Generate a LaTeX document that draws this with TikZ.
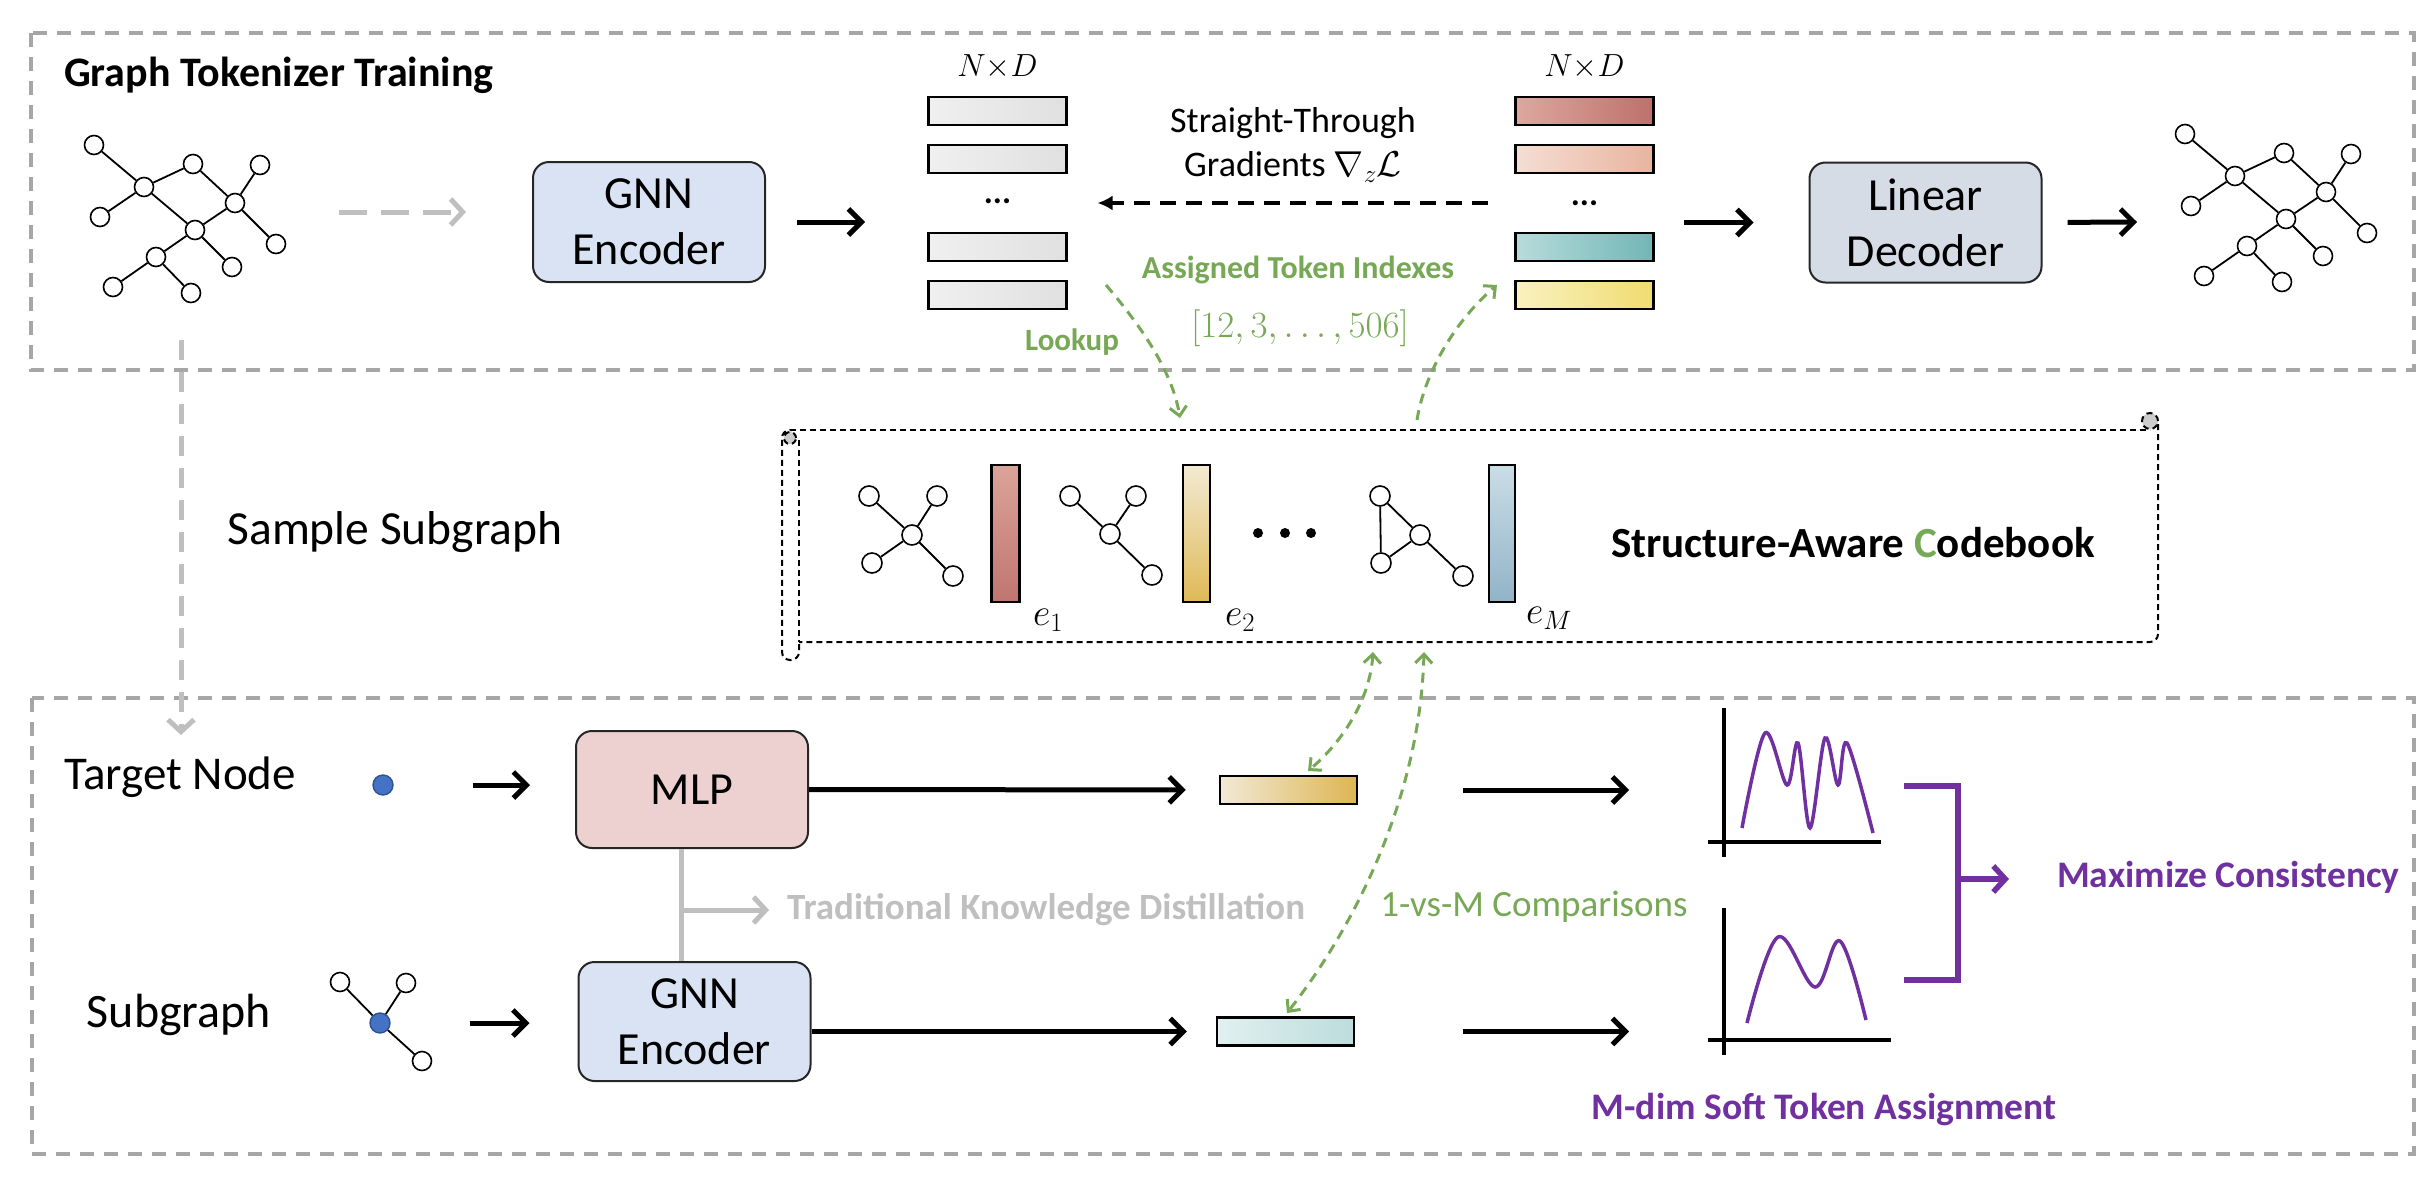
\RequirePackage{fix-cm}
\documentclass[tikz,border=0pt]{standalone}
\usepackage{fontspec}
\setmainfont{Carlito}
\usetikzlibrary{arrows.meta,calc}

\definecolor{gline}{HTML}{A6A6A6}
\definecolor{garrow}{HTML}{BFBFBF}
\definecolor{grn}{HTML}{77A856}
\definecolor{purp}{HTML}{7030A0}
\definecolor{gnnfill}{HTML}{DAE3F3}
\definecolor{decfill}{HTML}{D6DCE5}
\definecolor{mlpfill}{HTML}{EDD1D1}
\definecolor{dotblue}{HTML}{4472C4}
\definecolor{dotedge}{HTML}{2F528F}

\newcommand\fsz[1]{\fontsize{#1}{1.22\dimexpr#1pt\relax}\selectfont}

\newcommand\biggraph[3]{%
  \begin{scope}[shift={(#2,#3)}]
    \node[gnode] (#1a) at (94,145) {};
    \node[gnode] (#1b) at (144,187) {};
    \node[gnode] (#1c) at (100,217) {};
    \node[gnode] (#1d) at (193,164) {};
    \node[gnode] (#1e) at (260,165) {};
    \node[gnode] (#1f) at (235,203) {};
    \node[gnode] (#1g) at (195,230) {};
    \node[gnode] (#1h) at (276,244) {};
    \node[gnode] (#1i) at (156,257) {};
    \node[gnode] (#1j) at (232,267) {};
    \node[gnode] (#1k) at (113,287) {};
    \node[gnode] (#1l) at (191,293) {};
    \draw[gedge] (#1a)--(#1b) (#1b)--(#1c) (#1b)--(#1d) (#1d)--(#1f) (#1e)--(#1f)
      (#1f)--(#1h) (#1b)--(#1g) (#1g)--(#1f) (#1g)--(#1j) (#1g)--(#1i)
      (#1i)--(#1k) (#1i)--(#1l);
  \end{scope}}

\begin{document}
\begin{tikzpicture}[x=1pt,y=-1pt,
  gbox/.style={draw=gline,line width=3.5pt,dash pattern=on 14pt off 10pt},
  gnode/.style={circle,draw,line width=1.6pt,fill=white,minimum size=19pt,inner sep=0pt},
  cnode/.style={circle,draw,line width=1.6pt,fill=white,minimum size=20pt,inner sep=0pt},
  bnode/.style={circle,draw=dotedge,line width=1.4pt,fill=dotblue,minimum size=20pt,inner sep=0pt},
  gedge/.style={line width=1.8pt},
  blk/.style={line width=5pt,-{Straight Barb[length=13pt,width=26pt]}},
  grayarr/.style={draw=garrow,line width=5pt,-{Straight Barb[length=12pt,width=26pt]}},
  purarr/.style={draw=purp,line width=5.5pt,-{Straight Barb[length=12pt,width=26pt]}},
  grnarr/.style={draw=grn,line width=3pt,dash pattern=on 10pt off 7pt},
  procbox/.style={draw=black!85,line width=2pt,rounded corners=16pt,minimum width=232pt,
    minimum height=120pt,align=center,font=\fsz{46},inner sep=0pt},
  vec/.style={draw,line width=2.5pt,minimum width=138pt,minimum height=28pt,inner sep=0pt},
  cbar/.style={draw,line width=2.5pt,minimum width=28pt,minimum height=137pt,inner sep=0pt},
  cb/.style={draw,line width=2pt,dash pattern=on 6pt off 4pt},
]
\useasboundingbox (0,0) rectangle (2434,1178);

% ---------------- section frames
\draw[gbox] (31,33) rectangle (2414,370);
\draw[gbox] (32,698) rectangle (2414,1154);

\node[anchor=base west,font=\bfseries\fsz{42},inner sep=0pt] (title) at (64,86) {Graph Tokenizer Training};

% ---------------- top row
\biggraph{i}{0}{0}
\biggraph{o}{2091}{-11}

\node[procbox,fill=gnnfill] (gnn1) at (649,222) {GNN\\Encoder};
\node[procbox,fill=decfill] (dec) at (1925.5,222.5) {Linear\\Decoder};

\coordinate (gin) at (339,212);
\draw[grayarr,dash pattern=on 28pt off 14pt,shorten >=66pt] (gin) -- (gnn1.west |- gin);

% left stack
\node[font=\fsz{32}] (ndL) at (997.5,67) {$N{\times}D$};
\node[vec,left color=black!6,right color=black!12] (L1) at (997.5,111) {};
\node[vec,left color=black!6,right color=black!12] (L2) at (997.5,159) {};
\node[font=\bfseries\fsz{34},inner sep=0pt] (dotsL) at (997.5,201) {...};
\node[vec,left color=black!6,right color=black!12] (L3) at (997.5,247) {};
\node[vec,left color=black!6,right color=black!12] (L4) at (997.5,295) {};

% right stack
\node[font=\fsz{32}] (ndR) at (1584.5,67) {$N{\times}D$};
\node[vec,left color={rgb,255:red,221;green,168;blue,158},right color={rgb,255:red,190;green,112;blue,108}] (R1) at (1584.5,111) {};
\node[vec,left color={rgb,255:red,245;green,222;blue,211},right color={rgb,255:red,232;green,180;blue,158}] (R2) at (1584.5,159) {};
\node[font=\bfseries\fsz{34},inner sep=0pt] (dotsR) at (1584.5,203) {...};
\node[vec,left color={rgb,255:red,184;green,219;blue,219},right color={rgb,255:red,114;green,182;blue,182}] (R3) at (1584.5,247) {};
\node[vec,left color={rgb,255:red,249;green,241;blue,192},right color={rgb,255:red,240;green,220;blue,112}] (R4) at (1584.5,295) {};

\coordinate (Lin) at (928,222);
\draw[blk,shorten <=31pt,shorten >=63pt] (gnn1.east) -- (Lin);
\draw[blk,shorten <=29pt,shorten >=55pt] (R3.east |- dec) -- (dec.west);
\coordinate (gout) at (2137,222);
\draw[blk,shorten <=25pt] (dec.east) -- (gout);

\node[align=center,font=\fsz{36}] (stg) at (1293,145) {Straight-Through\\Gradients $\nabla_{z}\mathcal{L}$};
\draw[line width=3.5pt,dash pattern=on 16pt off 10pt,-{Latex[length=15pt,width=15pt]},
  shorten <=97pt,shorten >=100pt] (dotsR.center) -- (dotsL.center |- dotsR.center);

\node[text=grn,font=\bfseries\fsz{32}] (ati) at (1298,270) {Assigned Token Indexes};
\node[text=grn,font=\fsz{37}] (idx) at (1300,328) {$[12,3,\ldots,506]$};
\node[text=grn,font=\bfseries\fsz{31}] (lookup) at (1072,342) {Lookup};

\coordinate (lk1) at (1106,285);
\coordinate (lk2) at (1180,418);
\draw[grnarr,-{Straight Barb[length=9pt,width=17pt]}] (lk1) .. controls (1140,325) and (1172,370) .. (lk2);
\coordinate (as1) at (1417,420);
\coordinate (as2) at (1497,285);
\draw[grnarr,-{Straight Barb[length=9pt,width=17pt]}] (as1) .. controls (1425,370) and (1458,318) .. (as2);

% ---------------- codebook scroll
\draw[cb] (790,430) -- (2150,430);
\draw[cb,rounded corners=8pt] (2158,424) -- (2158,642) -- (799,642);
\draw[cb] (799,440) -- (799,642);
\draw[cb,rounded corners=8pt] (799,644) -- (799,660) -- (782,660) -- (782,430) -- (792,430);
\draw[cb,fill=black!20] (790,438) circle[radius=6pt];
\draw[cb,fill=black!20] (2150,421) circle[radius=8pt];

\node[cnode] (c1h) at (912,535) {};
\node[cnode] (c1a) at (869,496) {};
\node[cnode] (c1b) at (937,496) {};
\node[cnode] (c1c) at (872,563) {};
\node[cnode] (c1d) at (953,576) {};
\draw[gedge] (c1h)--(c1a) (c1h)--(c1b) (c1h)--(c1c) (c1h)--(c1d);
\node[cbar,top color={rgb,255:red,219;green,164;blue,152},bottom color={rgb,255:red,192;green,117;blue,112}] (e1) at (1005.5,533.5) {};
\node[font=\fsz{38}] (e1l) at (1048,620) {$e_1$};

\node[cnode] (c2h) at (1110,534) {};
\node[cnode] (c2a) at (1070,496) {};
\node[cnode] (c2b) at (1136,496) {};
\node[cnode] (c2d) at (1152,575) {};
\draw[gedge] (c2h)--(c2a) (c2h)--(c2b) (c2h)--(c2d);
\node[cbar,minimum width=27pt,top color={rgb,255:red,243;green,234;blue,211},bottom color={rgb,255:red,222;green,185;blue,86}] (e2) at (1196.5,533.5) {};
\node[font=\fsz{38}] (e2l) at (1240,620) {$e_2$};

\fill (1258,533) circle[radius=5pt] (1285,533) circle[radius=5pt] (1311,533) circle[radius=5pt];

\node[cnode] (c3a) at (1380,496) {};
\node[cnode] (c3h) at (1420,535) {};
\node[cnode] (c3c) at (1381,563) {};
\node[cnode] (c3d) at (1463,576) {};
\draw[gedge] (c3a)--(c3c) (c3a)--(c3h) (c3h)--(c3c) (c3h)--(c3d);
\node[cbar,minimum width=26pt,top color={rgb,255:red,202;green,221;blue,230},bottom color={rgb,255:red,145;green,180;blue,199}] (eM) at (1502,533.5) {};
\node[font=\fsz{38}] (eMl) at (1549,618) {$e_M$};

\node[font=\bfseries\fsz{43}] (cbt) at (1853,543) {Structure-Aware \textcolor{grn}{C}odebook};

\node[font=\fsz{47.5}] (samp) at (395,532) {Sample Subgraph};
\coordinate (vs1) at (181,340);
\coordinate (vs2) at (181,735);
\draw[grayarr,dash pattern=on 20pt off 12pt] (vs1) -- (vs2);

% ---------------- bottom row
\node[font=\fsz{47}] (tn) at (180,777) {Target Node};
\node[bnode] (tdot) at (383,785) {};
\node[procbox,fill=mlpfill,minimum height=117pt] (mlp) at (692,789.5) {MLP};
\draw[blk,shorten <=79pt,shorten >=45pt] (tdot) -- (mlp.west |- tdot);

\node[font=\fsz{48}] (sg) at (179,1015) {Subgraph};
\node[bnode] (sh) at (380,1023) {};
\node[cnode,minimum size=19pt] (sa) at (340,982) {};
\node[cnode,minimum size=19pt] (sb) at (406,983) {};
\node[cnode,minimum size=19pt] (sc) at (422,1061) {};
\draw[gedge] (sh)--(sa) (sh)--(sb) (sh)--(sc);
\node[procbox,fill=gnnfill,minimum height=119pt] (gnn2) at (694.5,1021.5) {GNN\\Encoder};
\draw[blk,shorten <=79pt,shorten >=48pt] (sh) -- (gnn2.west |- sh);

% distillation
\coordinate (kd) at (681,910);
\draw[draw=garrow,line width=5pt] (mlp.south -| kd) -- (gnn2.north -| kd);
\coordinate (kdend) at (769,910);
\draw[grayarr] (kd) -- (kdend);
\node[anchor=west,text=garrow,font=\bfseries\fsz{37},inner sep=0pt] (kdl) at (787,910) {Traditional Knowledge Distillation};

% student/teacher embeddings
\node[vec,minimum width=137pt,left color={rgb,255:red,242;green,233;blue,214},right color={rgb,255:red,221;green,181;blue,83}] (gold) at (1288.5,790) {};
\node[vec,minimum width=137pt,left color={rgb,255:red,226;green,240;blue,240},right color={rgb,255:red,188;green,220;blue,220}] (teal) at (1285.5,1031.5) {};
\draw[blk,shorten >=33pt] (mlp.east) -- (gold.west);
\draw[blk,shorten >=29pt] (gnn2.east |- teal) -- (teal.west);

\coordinate (p1in) at (1629,790);
\coordinate (p2in) at (1629,1031.5);
\draw[blk,shorten <=105pt] (gold.east) -- (p1in);
\draw[blk,shorten <=108pt] (teal.east) -- (p2in);

% comparisons
\coordinate (cm1a) at (1373,652);
\coordinate (cm1b) at (1308,771);
\coordinate (cm2a) at (1424,652);
\coordinate (cm2b) at (1287,1013);
\draw[grnarr,{Straight Barb[length=9pt,width=17pt]}-{Straight Barb[length=9pt,width=17pt]}] (cm1a) .. controls (1370,700) and (1342,742) .. (cm1b);
\draw[grnarr,{Straight Barb[length=9pt,width=17pt]}-{Straight Barb[length=9pt,width=17pt]}] (cm2a) .. controls (1420,800) and (1352,930) .. (cm2b);
\node[text=grn,font=\fsz{37}] (cmp) at (1534,907) {1-vs-M Comparisons};

% distributions
\draw[line width=3.5pt] (1724,708) -- (1724,857) (1708,842) -- (1881,842);
\draw[line width=3.5pt] (1724,908) -- (1724,1055) (1708,1040) -- (1891,1040);
\draw[purp,line width=3.5pt] plot[smooth,tension=0.55] coordinates {(1742,828) (1765,733) (1787,785) (1798,743) (1810,828) (1825,738) (1838,785) (1847,743) (1873,833)};
\draw[purp,line width=3.5pt] plot[smooth,tension=0.6] coordinates {(1747,1023) (1778,937) (1815,987) (1840,941) (1866,1020)};

\draw[purp,line width=5.5pt] (1904,786) -- (1958,786) -- (1958,980) -- (1904,980);
\coordinate (br) at (1958,879);
\coordinate (brend) at (2009,879);
\draw[purarr] (br) -- (brend);
\node[anchor=west,text=purp,font=\bfseries\fsz{37.5},inner sep=0pt] (maxc) at (2057,877) {Maximize Consistency};
\node[text=purp,font=\bfseries\fsz{37.5}] (msoft) at (1824,1110) {M-dim Soft Token Assignment};
\end{tikzpicture}
\end{document}
